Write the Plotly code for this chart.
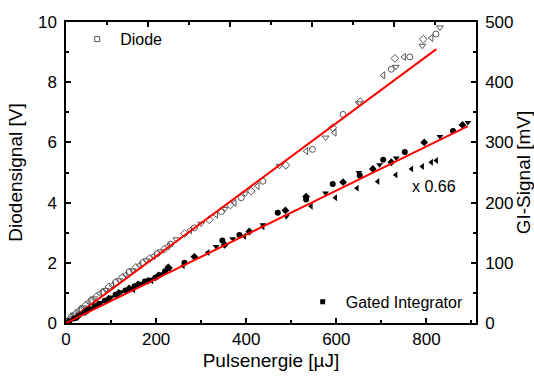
import plotly.graph_objects as go

# ---------------- data ----------------
diode_E = [3, 8, 12, 17, 22, 27, 33, 38, 44, 50, 56, 62, 68, 75, 82, 88, 95, 102, 110, 118,
           125, 132, 140, 148, 155, 163, 170, 178, 186, 194, 202, 210, 218, 226, 232, 245,
           263, 275, 285, 300, 318, 333, 345, 352, 365, 374, 389, 398, 411, 425, 437, 474,
           488, 533, 547, 576, 592, 596, 615, 650, 653, 704, 722, 732, 730, 750, 763, 791,
           793, 811, 821, 830]
diode_V = [0.05, 0.12, 0.20, 0.28, 0.32, 0.40, 0.45, 0.52, 0.60, 0.70, 0.75, 0.82, 0.88, 0.98,
           1.02, 1.10, 1.20, 1.25, 1.35, 1.42, 1.52, 1.60, 1.70, 1.75, 1.85, 1.92, 2.00, 2.08,
           2.15, 2.22, 2.30, 2.38, 2.45, 2.55, 2.62, 2.78, 2.97, 3.08, 3.16, 3.30, 3.43, 3.60,
           3.70, 3.79, 3.92, 3.99, 4.16, 4.30, 4.38, 4.55, 4.71, 5.22, 5.24, 5.71, 5.77, 6.16,
           6.49, 6.32, 6.93, 7.30, 7.35, 8.23, 8.43, 8.51, 8.79, 8.84, 8.84, 9.21, 9.43, 9.47,
           9.60, 9.82]

gi_E = [5, 12, 18, 25, 34, 40, 48, 56, 64, 72, 78, 86, 94, 101, 110, 117, 123, 132, 140, 145,
        152, 160, 168, 175, 182, 190, 198, 205, 212, 220, 227, 230, 263, 285, 333, 347, 352,
        370, 385, 407, 437, 470, 487, 489, 533, 533, 576, 592, 615, 650, 652, 681, 696, 704,
        722, 733, 752, 795, 830, 859, 880, 892]
gi_mV = [2, 5, 7.5, 10, 15, 17, 21, 25, 28, 31, 34, 37, 40, 43, 47, 50, 52, 54, 57.5, 57,
         61, 64, 66, 69, 70, 72.5, 75, 79, 82, 86, 92.5, 90, 100, 110, 127, 137, 130,
         140, 146, 152, 163, 183, 187, 177, 205, 210, 216, 231, 234, 250, 245, 256, 263, 271,
         267, 274, 284, 300, 310, 319, 329, 333]

scaled_E = [150, 190, 260, 315, 396, 437, 544, 598, 646, 692, 732, 767, 791, 811, 822]
scaled_mV = [55, 70, 95, 117, 144, 160, 194, 208, 224, 235, 246, 256, 260, 267, 270]

diode_fit_E = [0, 822]
diode_fit_V = [0, 9.1]
gi_fit_E = [0, 892]
gi_fit_mV = [0, 327]

x_ticks = [0, 200, 400, 600, 800]
y_left_ticks = [0, 2, 4, 6, 8, 10]
y_right_ticks = [0, 100, 200, 300, 400, 500]

# ---------------- style ----------------
FONT = "Liberation Sans, Arial, sans-serif"
diode_symbols = ["diamond-open", "triangle-left-open", "circle-open", "triangle-down-open"]
gi_symbols = ["diamond", "triangle-down", "circle"]

fig = go.Figure()

fig.add_trace(go.Scatter(
    x=diode_E, y=diode_V, mode="markers", showlegend=False,
    marker=dict(symbol=[diode_symbols[i % len(diode_symbols)] for i in range(len(diode_E))],
                size=6, color="#555555", line=dict(width=1, color="#555555")),
))
fig.add_trace(go.Scatter(
    x=gi_E, y=gi_mV, yaxis="y2", mode="markers", showlegend=False,
    marker=dict(symbol=[gi_symbols[i % len(gi_symbols)] for i in range(len(gi_E))],
                size=6, color="black"),
))
fig.add_trace(go.Scatter(
    x=scaled_E, y=scaled_mV, yaxis="y2", mode="markers", showlegend=False,
    marker=dict(symbol="triangle-left", size=6, color="black"),
))
fig.add_trace(go.Scatter(
    x=diode_fit_E, y=diode_fit_V, mode="lines", showlegend=False,
    line=dict(color="#ff0000", width=2),
))
fig.add_trace(go.Scatter(
    x=gi_fit_E, y=gi_fit_mV, yaxis="y2", mode="lines", showlegend=False,
    line=dict(color="#ff0000", width=2),
))
# legend entries
fig.add_trace(go.Scatter(
    x=[None], y=[None], mode="markers", name="Diode", legend="legend",
    marker=dict(symbol="square-open", size=5, color="#555555", line=dict(width=1)),
))
fig.add_trace(go.Scatter(
    x=[None], y=[None], mode="markers", name="Gated Integrator", legend="legend2",
    marker=dict(symbol="square", size=5, color="black"),
))
# top axis (ticks only)
fig.add_trace(go.Scatter(x=[], y=[], xaxis="x2", showlegend=False))

axis_common = dict(showline=True, linecolor="black", linewidth=1.5, ticks="inside",
                   tickcolor="black", tickwidth=1.5, ticklen=5, showgrid=False,
                   zeroline=False, automargin=False,
                   tickfont=dict(size=17, color="black", family=FONT))

fig.update_layout(
    width=534, height=378,
    margin=dict(l=66, r=58, t=22, b=55),
    paper_bgcolor="white", plot_bgcolor="white",
    font=dict(family=FONT, size=16, color="black"),
    xaxis=dict(range=[0, 910], tickvals=x_ticks,
               title=dict(text="Pulsenergie [µJ]", font=dict(size=19), standoff=6),
               minor=dict(ticks="inside", dtick=100, tick0=0, ticklen=3, tickcolor="black",
                          tickwidth=1.5),
               **axis_common),
    xaxis2=dict(range=[0, 1000], overlaying="x", side="top", anchor="y",
                showticklabels=False, tickvals=[200, 400, 600, 800],
                minor=dict(ticks="inside", dtick=100, tick0=0, ticklen=3, tickcolor="black",
                           tickwidth=1.5),
                **axis_common),
    yaxis=dict(range=[0, 10], tickvals=y_left_ticks, ticklabelstandoff=4,
               title=dict(text="Diodensignal [V]", font=dict(size=19), standoff=10),
               minor=dict(ticks="inside", dtick=1, tick0=0, ticklen=3, tickcolor="black",
                          tickwidth=1.5),
               **axis_common),
    yaxis2=dict(range=[0, 500], tickvals=y_right_ticks, overlaying="y", side="right",
                anchor="x", ticklabelstandoff=4,
                title=dict(text="GI-Signal [mV]", font=dict(size=19), standoff=10),
                minor=dict(ticks="inside", dtick=50, tick0=0, ticklen=3, tickcolor="black",
                           tickwidth=1.5),
                **axis_common),
    legend=dict(x=0.02, y=0.943, xanchor="left", yanchor="middle", bgcolor="rgba(0,0,0,0)",
                font=dict(size=16), itemwidth=36),
    legend2=dict(x=0.57, y=0.07, xanchor="left", yanchor="middle", bgcolor="rgba(0,0,0,0)",
                 font=dict(size=16), itemwidth=36),
    annotations=[dict(x=816, y=4.52, xref="x", yref="y", text="x 0.66", showarrow=False,
                      font=dict(size=16, color="black"))],
)

fig.write_html("out.html")
